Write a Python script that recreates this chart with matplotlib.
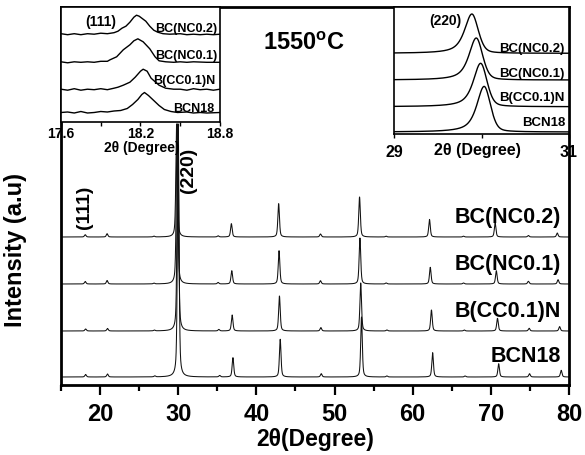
import numpy as np
import matplotlib
matplotlib.use("Agg")
import matplotlib.pyplot as plt
from matplotlib.ticker import FixedLocator

plt.rcParams['font.family'] = ['Liberation Sans', 'DejaVu Sans']
plt.rcParams['font.weight'] = 'bold'
plt.rcParams['mathtext.fontset'] = 'custom'
plt.rcParams['mathtext.rm'] = 'Liberation Sans:bold'
plt.rcParams['mathtext.bf'] = 'Liberation Sans:bold'

# ---------------- data ----------------
samples = ['BC(NC0.2)', 'BC(NC0.1)', 'B(CC0.1)N', 'BCN18']

# main pattern: vertical offsets of each trace (arbitrary units)
main_offsets = [148, 101, 54, 8]
# peak positions (2theta) and heights (a.u.)
main_pos = {
    'BC(NC0.2)': [18.1, 20.9, 26.9, 29.80, 35.1, 36.80, 42.85, 48.2, 53.20, 56.6, 62.15, 66.5, 70.55, 74.8, 78.5],
    'BC(NC0.1)': [18.1, 20.9, 26.9, 29.85, 35.1, 36.85, 42.90, 48.2, 53.25, 56.6, 62.25, 66.5, 70.70, 74.8, 78.6],
    'B(CC0.1)N': [18.15, 20.95, 26.95, 29.95, 35.2, 36.90, 42.95, 48.25, 53.35, 56.7, 62.40, 66.6, 70.85, 74.9, 78.8],
    'BCN18':     [18.15, 20.95, 27.0, 30.00, 35.3, 37.00, 43.05, 48.3, 53.45, 56.7, 62.55, 66.7, 71.00, 74.95, 79.0],
}
main_h = {
    'BC(NC0.2)': [2.3, 3.3, 0.8, 113, 1.2, 13.3, 33.3, 3.0, 40, 0.8, 17.6, 0.8, 14.0, 1.5, 4.0],
    'BC(NC0.1)': [2.5, 3.5, 0.8, 160, 1.5, 13.3, 33.3, 3.3, 46, 1.0, 16.7, 1.0, 13.3, 2.7, 4.3],
    'B(CC0.1)N': [2.0, 2.5, 0.8, 207, 1.5, 16.0, 35.0, 3.4, 48, 1.0, 21.0, 1.0, 12.7, 2.7, 4.4],
    'BCN18':     [2.5, 3.0, 1.0, 253, 1.5, 19.3, 37.7, 3.3, 60, 1.0, 24.3, 1.0, 13.3, 3.3, 6.7],
}

in1_offsets = [86.3, 58.7, 31.3, 8.0]
in1_x = {
    'BC(NC0.2)': [17.60, 17.65, 17.70, 17.75, 17.80, 17.85, 17.90, 17.95, 18.00, 18.03, 18.06, 18.09, 18.12, 18.15, 18.17, 18.19, 18.21, 18.24, 18.27, 18.30, 18.33, 18.37, 18.42, 18.50, 18.55, 18.60, 18.65, 18.70, 18.75, 18.80],
    'BC(NC0.1)': [17.60, 17.65, 17.70, 17.75, 17.80, 17.85, 17.90, 17.95, 17.97, 18.02, 18.07, 18.12, 18.15, 18.18, 18.22, 18.27, 18.31, 18.34, 18.39, 18.45, 18.50, 18.55, 18.60, 18.70, 18.80],
    'B(CC0.1)N': [17.60, 17.65, 17.70, 17.75, 17.80, 17.85, 17.90, 17.95, 18.00, 18.03, 18.07, 18.12, 18.16, 18.20, 18.22, 18.25, 18.28, 18.34, 18.39, 18.45, 18.50, 18.55, 18.60, 18.65, 18.70, 18.75, 18.80],
    'BCN18':     [17.60, 17.65, 17.70, 17.75, 17.80, 17.85, 17.90, 17.95, 18.00, 18.05, 18.10, 18.14, 18.18, 18.21, 18.23, 18.26, 18.30, 18.34, 18.38, 18.43, 18.48, 18.55, 18.60, 18.65, 18.70, 18.80],
}
in1_y = {
    'BC(NC0.2)': [1.5, 0.5, 1.5, 0.5, 1.5, 1.0, 2.0, 1.5, 2.5, 4.0, 7.0, 9.0, 13.0, 18.0, 20.0, 19.0, 17.0, 14.0, 9.0, 5.0, 3.0, 1.5, 1.0, 1.5, 0.5, 1.0, 0.5, 1.0, 0.5, 1.0],
    'BC(NC0.1)': [1.0, 0.0, 1.0, 0.5, 1.0, 0.5, 1.5, 1.5, 3.0, 6.0, 13.0, 18.0, 22.0, 24.0, 21.0, 14.0, 6.0, 2.0, 1.0, 0.5, 1.0, 0.5, 1.0, 0.5, 0.5],
    'B(CC0.1)N': [1.0, 0.0, 1.5, 0.0, 1.0, 0.5, 1.5, 0.5, 2.0, 3.0, 5.0, 8.0, 13.0, 19.0, 21.0, 19.0, 12.0, 5.0, 2.0, 1.0, 1.0, 0.0, 1.5, 0.5, 1.0, 0.0, 1.0],
    'BCN18':     [1.0, 1.5, 0.5, 2.0, 0.5, 1.0, 2.0, 1.5, 2.5, 3.0, 5.0, 9.0, 14.0, 19.0, 21.0, 18.0, 13.0, 8.0, 4.0, 2.0, 1.0, 1.5, 0.5, 1.0, 0.5, 1.0],
}

# inset (220): peak positions / heights / offsets
in2_offsets = [80.7, 54.0, 27.3, 2.0]
in2_pos = [29.89, 29.94, 29.99, 30.03]
in2_h = [39.3, 42.0, 43.4, 45.6]


def profile(x, pos, h, fwhm_l, fwhm_r, eta_l, eta_r):
    y = np.zeros_like(x)
    for p, a in zip(pos, h):
        d = x - p
        left = d < 0
        w = np.where(left, fwhm_l, fwhm_r) / 2.0
        eta = np.where(left, eta_l, eta_r)
        g = np.exp(-np.log(2) * (d / w) ** 2)
        l = 1.0 / (1.0 + (d / w) ** 2)
        y += a * (eta * l + (1 - eta) * g)
    return y


W, H = 585, 456
fig = plt.figure(figsize=(W / 100, H / 100), dpi=100)


def rect(x0, y0, x1, y1):
    return [x0 / W, 1 - y1 / H, (x1 - x0) / W, (y1 - y0) / H]


def ftext(px, py, s, **kw):
    fig.text(px / W, 1 - py / H, s, **kw)


# ---------------- main axes ----------------
ax = fig.add_axes(rect(61, 8, 569, 386))
x = np.arange(15, 80.001, 0.01)
for s, off in zip(samples, main_offsets):
    y = profile(x, main_pos[s], main_h[s], 0.24, 0.24, 0.5, 0.5)
    ax.plot(x, y + off, color='#111111', lw=0.75)
ax.set_xlim(15, 80)
ax.set_ylim(0, 378)
ax.set_yticks([])
ax.xaxis.set_major_locator(FixedLocator([20, 30, 40, 50, 60, 70, 80]))
ax.xaxis.set_minor_locator(FixedLocator([15, 25, 35, 45, 55, 65, 75]))
ax.tick_params(axis='x', which='major', direction='out', length=7.5, width=1.6,
               labelsize=17, pad=5)
ax.tick_params(axis='x', which='minor', direction='out', length=4.5, width=1.6)
for lab in ax.get_xticklabels():
    lab.set_fontweight('bold')
for sp in ax.spines.values():
    sp.set_linewidth(2.0)
ax.set_xlabel('2θ(Degree)', fontsize=16.5, fontweight='bold', labelpad=1)
ax.set_ylabel('Intensity (a.u)', fontsize=17, fontweight='bold')
ax.yaxis.set_label_coords(-0.066, 0.36)

label_y = [218, 265, 312, 357]
for s, py in zip(samples, label_y):
    ftext(561, py, s, fontsize=15.5, fontweight='bold', ha='right', va='center')
ftext(85, 207, '(111)', fontsize=14, fontweight='bold', rotation=90, ha='center', va='center')
ftext(189, 170, '(220)', fontsize=14, fontweight='bold', rotation=90, ha='center', va='center')
ftext(304, 43, r'1550$^{\mathbf{o}}$C', fontsize=17, fontweight='bold', ha='center', va='center')

# ---------------- inset (111) ----------------
a1 = fig.add_axes(rect(61, 8, 220, 122.5))
for s, off in zip(samples, in1_offsets):
    a1.plot(in1_x[s], np.array(in1_y[s]) + off, color='black', lw=1.0)
a1.set_xlim(17.6, 18.8)
a1.set_ylim(0, 114.5)
a1.set_yticks([])
a1.xaxis.set_major_locator(FixedLocator([17.6, 18.2, 18.8]))
a1.xaxis.set_minor_locator(FixedLocator([17.9, 18.5]))
a1.set_xticklabels(['17.6', '18.2', '18.8'], fontsize=10, fontweight='bold')
a1.tick_params(axis='x', which='both', direction='out', length=3, width=1.0, pad=0)
for sp in a1.spines.values():
    sp.set_linewidth(1.2)
ftext(142, 148, '2θ (Degree)', fontsize=10, fontweight='bold', ha='center', va='center')
ftext(101, 22, '(111)', fontsize=10, fontweight='bold', ha='center', va='center')
for s, py, rx in zip(samples, [29, 55.5, 81, 109], [217, 217, 215, 214]):
    ftext(rx, py, s, fontsize=9, fontweight='bold', ha='right', va='center')

# ---------------- inset (220) ----------------
a2 = fig.add_axes(rect(394, 8, 569, 135))
x2 = np.arange(29, 31.0001, 0.002)
for i, (s, off) in enumerate(zip(samples, in2_offsets)):
    y = profile(x2, [in2_pos[i]], [in2_h[i]], 0.20, 0.17, 0.75, 0.3)
    a2.plot(x2, y + off, color='black', lw=1.0)
a2.set_xlim(29, 31)
a2.set_ylim(0, 127)
a2.set_yticks([])
a2.xaxis.set_major_locator(FixedLocator([29, 31]))
a2.xaxis.set_minor_locator(FixedLocator([30]))
a2.set_xticklabels(['29', '31'], fontsize=11.5, fontweight='bold')
a2.tick_params(axis='x', which='both', direction='out', length=3, width=1.0, pad=4)
for sp in a2.spines.values():
    sp.set_linewidth(1.2)
ftext(477, 150, '2θ (Degree)', fontsize=11.5, fontweight='bold', ha='center', va='center')
ftext(445, 21, '(220)', fontsize=10, fontweight='bold', ha='center', va='center')
for s, py in zip(samples, [49, 74, 98.5, 122.5]):
    ftext(565, py, s, fontsize=9.5, fontweight='bold', ha='right', va='center')

fig.savefig('out.png', dpi=100)
